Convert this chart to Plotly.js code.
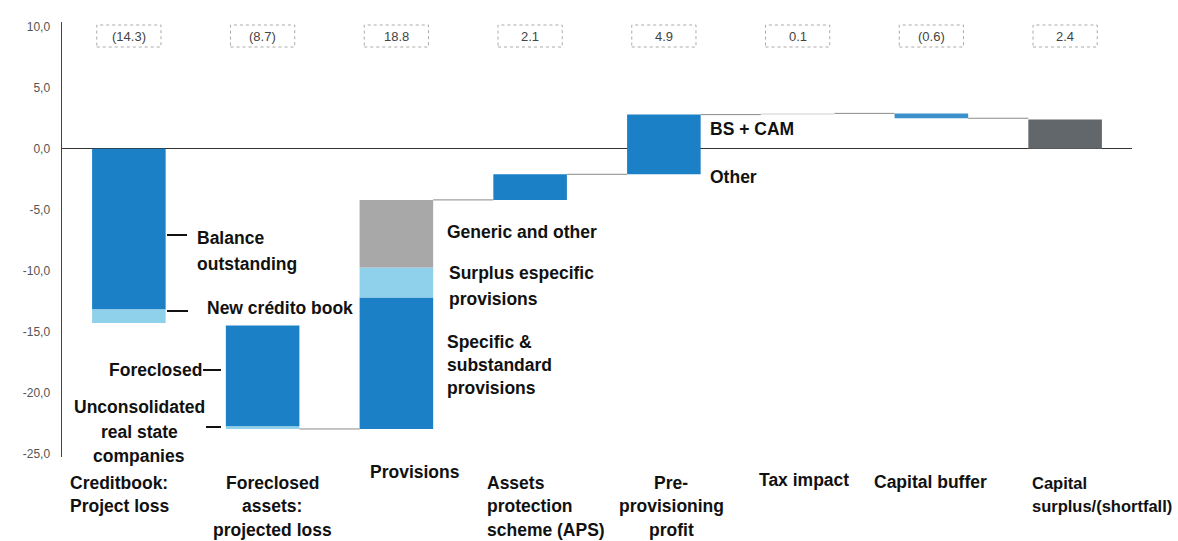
<!DOCTYPE html>
<html>
<head>
<meta charset="utf-8">
<script src="https://cdn.plot.ly/plotly-3.0.1.min.js"></script>
<style>html,body{margin:0;padding:0;background:#fff;}#chart{width:1178px;height:541px;}</style>
</head>
<body>
<div id="chart"></div>
<script>
// ---------- data ----------
const categories = ["Credit book", "Foreclosed assets", "Provisions", "APS", "Pre-provisioning profit", "Tax impact", "Capital buffer", "Capital surplus"];
const categoryLabels = [
  ["Creditbook:", "Project loss"],
  ["Foreclosed", "assets:", "projected loss"],
  ["Provisions"],
  ["Assets", "protection", "scheme (APS)"],
  ["Pre-", "provisioning", "profit"],
  ["Tax impact"],
  ["Capital buffer"],
  ["Capital", "surplus/(shortfall)"]
];
const valueLabels = ["(14.3)", "(8.7)", "18.8", "2.1", "4.9", "0.1", "(0.6)", "2.4"];
const yTickValues = [-25, -20, -15, -10, -5, 0, 5, 10];
const yTickLabels = ["-25,0", "-20,0", "-15,0", "-10,0", "-5,0", "0,0", "5,0", "10,0"];

// main segment of each bar (base and signed length)
const mainBase = [0, -14.5, -23.0, -4.2, -2.1, 2.8, 2.9, 0];
const mainLen  = [-13.2, -8.3, 10.8, 2.1, 4.9, 0.1, -0.4, 2.4];
// light-blue segments
const lightBase = [-13.2, -22.8, -12.2, null, null, null, null, null];
const lightLen  = [-1.1, -0.2, 2.45, null, null, null, null, null];
// grey segment (generic and other)
const greyBase = [null, null, -9.75, null, null, null, null, null];
const greyLen  = [null, null, 5.55, null, null, null, null, null];

// side label texts
const balanceLabel = ["Balance", "outstanding"];
const newBookLabel = ["New crédito book"];
const foreclosedLabel = ["Foreclosed"];
const unconsolidatedLabel = ["Unconsolidated", "real state", "companies"];
const genericLabel = ["Generic and other"];
const surplusSpecLabel = ["Surplus especific", "provisions"];
const specificLabel = ["Specific &", "substandard", "provisions"];
const bsLabel = ["BS + CAM"];
const otherLabel = ["Other"];

// ---------- styling ----------
const DARK_BLUE = "#1b80c6";
const LIGHT_BLUE = "#8fd0ea";
const GREY = "#a8a8a8";
const DARK_GREY = "#62676b";
const mainColors = [DARK_BLUE, DARK_BLUE, DARK_BLUE, DARK_BLUE, DARK_BLUE, "#d0d0d0", "#3b8fcb", DARK_GREY];
const FONT = "Liberation Sans, Arial, sans-serif";
const BAR_W = 0.55;
const TXT = 17.5;

const idx = categories.map((_, i) => i);

const traces = [];
traces.push({type: "bar", x: idx, y: mainLen, base: mainBase, width: BAR_W,
  marker: {color: mainColors, line: {width: 0}}, hoverinfo: "skip", showlegend: false});
traces.push({type: "bar", x: idx, y: lightLen, base: lightBase, width: BAR_W,
  marker: {color: LIGHT_BLUE, line: {width: 0}}, hoverinfo: "skip", showlegend: false});
traces.push({type: "bar", x: idx, y: greyLen, base: greyBase, width: BAR_W,
  marker: {color: GREY, line: {width: 0}}, hoverinfo: "skip", showlegend: false});

// connector lines, derived from bar ends
const ends = [];
let level = 0;
idx.forEach(i => {
  const edges = [];
  [[mainBase, mainLen], [lightBase, lightLen], [greyBase, greyLen]].forEach(([b, l]) => {
    if (b[i] !== null && l[i] !== null) { edges.push(b[i], b[i] + l[i]); }
  });
  let far = level;
  edges.forEach(e => { if (Math.abs(e - level) > Math.abs(far - level)) far = e; });
  level = far;
  ends.push(far);
});
const cx = [], cy = [];
for (let i = 1; i < idx.length - 1; i++) {
  cx.push(i + BAR_W / 2, i + 1 - BAR_W / 2, null);
  cy.push(ends[i], ends[i], null);
}
traces.push({type: "scatter", mode: "lines", x: cx, y: cy, connectgaps: false,
  line: {color: "#8a8a8a", width: 1}, hoverinfo: "skip", showlegend: false});

// ---------- layout helpers (pixel -> paper) ----------
const L = 62, T = 22, W = 1070, H = 435;
const px = x => (x - L) / W;
const py = y => 1 - (y - T) / H;

const annotations = [];
const shapes = [];
function addText(lines, x, y0, anchor, spacing, size) {
  lines.forEach((t, k) => annotations.push({
    xref: "paper", yref: "paper", x: px(x), y: py(y0 + k * spacing), text: t,
    showarrow: false, xanchor: anchor, yanchor: "middle",
    font: {family: FONT, size: size, color: "#111", weight: 700}
  }));
}
function addLeader(x0, x1, y) {
  shapes.push({type: "line", xref: "paper", yref: "paper", x0: px(x0), x1: px(x1), y0: py(y), y1: py(y),
    line: {color: "#111", width: 2}});
}

// value boxes at top
valueLabels.forEach((t, i) => {
  shapes.push({type: "rect", xref: "x", yref: "paper", x0: i - 0.24, x1: i + 0.24, y0: py(47), y1: py(25),
    line: {color: "#aaaaaa", width: 1, dash: "dot"}, fillcolor: "rgba(0,0,0,0)"});
  annotations.push({xref: "x", yref: "paper", x: i, y: py(36), text: t, showarrow: false,
    xanchor: "center", yanchor: "middle", font: {family: FONT, size: 13, color: "#444"}});
});

// category labels below
const catPos = [
  [68, "left", 483, TXT], [272, "center", 483, TXT], [368, "left", 472, TXT], [485, "left", 483, TXT],
  [671, "center", 483, TXT], [757, "left", 480, TXT], [872, "left", 482, TXT], [1030, "left", 483, 16.5]
];
categoryLabels.forEach((lines, i) => addText(lines, catPos[i][0], catPos[i][2], catPos[i][1], 23.5, catPos[i][3]));

// side labels
addText(balanceLabel, 195, 238, "left", 26, TXT);
addLeader(167, 187, 235);
addText(newBookLabel, 205, 308, "left", 24, TXT);
addLeader(167, 188, 311);
addText(foreclosedLabel, 204, 370, "right", 24, TXT);
addLeader(203, 221, 370);
addText(unconsolidatedLabel, 139, 407, "center", 24.5, TXT);
addLeader(206, 221, 427);
addText(genericLabel, 445, 232, "left", 24, TXT);
addText(surplusSpecLabel, 447, 273, "left", 26, TXT);
addText(specificLabel, 445, 342, "left", 23, TXT);
addText(bsLabel, 708, 129, "left", 24, TXT);
addText(otherLabel, 708, 177, "left", 24, TXT);

const layout = {
  width: 1178, height: 541,
  margin: {l: L, r: 1178 - L - W, t: T, b: 541 - T - H},
  paper_bgcolor: "#ffffff", plot_bgcolor: "#ffffff",
  barmode: "overlay",
  showlegend: false,
  xaxis: {range: [-0.5, 7.5], showticklabels: false, showgrid: false, zeroline: false, showline: false, ticks: "", fixedrange: true},
  yaxis: {range: [-25.3, 10.4], tickmode: "array", tickvals: yTickValues, ticktext: yTickLabels,
    showgrid: false, zeroline: true, zerolinecolor: "#333", zerolinewidth: 1.5,
    showline: true, linecolor: "#444", linewidth: 1.5, ticks: "", ticklabelstandoff: 8,
    tickfont: {family: FONT, size: 12, color: "#555"}, fixedrange: true},
  annotations: annotations,
  shapes: shapes
};

Plotly.newPlot("chart", traces, layout, {displayModeBar: false, staticPlot: true});
</script>
</body>
</html>
